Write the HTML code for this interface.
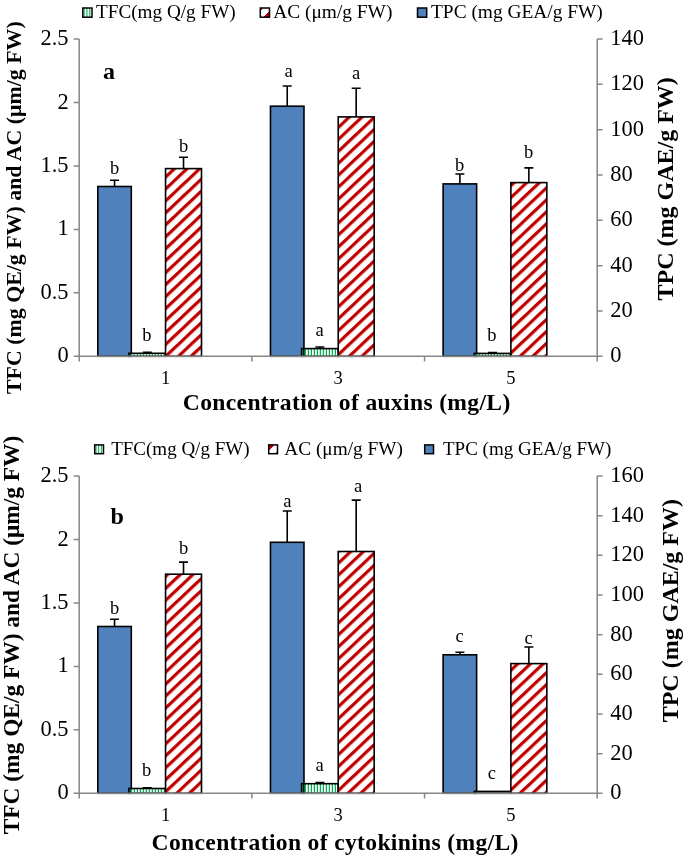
<!DOCTYPE html>
<html><head><meta charset="utf-8"><style>
html,body{margin:0;padding:0;background:#fff;width:685px;height:857px;overflow:hidden}
svg{display:block;will-change:transform}
text{font-family:"Liberation Serif",serif;fill:#000}
</style></head><body>
<svg width="685" height="857" viewBox="0 0 685 857">
<defs>
<pattern id="prA0" patternUnits="userSpaceOnUse" x="0" y="6.006" width="8.6970" height="8.6970" patternTransform="rotate(-43.350)"><rect width="8.6970" height="8.6970" fill="#fff"/><rect width="8.6970" height="3.2" fill="#C00000"/></pattern>
<pattern id="prA1" patternUnits="userSpaceOnUse" x="0" y="1.541" width="8.6970" height="8.6970" patternTransform="rotate(-43.350)"><rect width="8.6970" height="8.6970" fill="#fff"/><rect width="8.6970" height="3.2" fill="#C00000"/></pattern>
<pattern id="prA2" patternUnits="userSpaceOnUse" x="0" y="5.774" width="8.6970" height="8.6970" patternTransform="rotate(-43.350)"><rect width="8.6970" height="8.6970" fill="#fff"/><rect width="8.6970" height="3.2" fill="#C00000"/></pattern>
<pattern id="prB0" patternUnits="userSpaceOnUse" x="0" y="0.771" width="8.6970" height="8.6970" patternTransform="rotate(-43.350)"><rect width="8.6970" height="8.6970" fill="#fff"/><rect width="8.6970" height="3.2" fill="#C00000"/></pattern>
<pattern id="prB1" patternUnits="userSpaceOnUse" x="0" y="5.366" width="8.6970" height="8.6970" patternTransform="rotate(-43.350)"><rect width="8.6970" height="8.6970" fill="#fff"/><rect width="8.6970" height="3.2" fill="#C00000"/></pattern>
<pattern id="prB2" patternUnits="userSpaceOnUse" x="0" y="1.643" width="8.6970" height="8.6970" patternTransform="rotate(-43.350)"><rect width="8.6970" height="8.6970" fill="#fff"/><rect width="8.6970" height="3.2" fill="#C00000"/></pattern>
<linearGradient id="prl" x1="0" y1="0" x2="1" y2="1">
<stop offset="0" stop-color="#C00000"/><stop offset="0.2" stop-color="#C00000"/><stop offset="0.2" stop-color="#fff"/>
<stop offset="0.66" stop-color="#fff"/><stop offset="0.66" stop-color="#C00000"/><stop offset="1" stop-color="#C00000"/>
</linearGradient>
<linearGradient id="prlb" x1="0" y1="0" x2="1" y2="1">
<stop offset="0" stop-color="#C00000"/><stop offset="0.34" stop-color="#C00000"/><stop offset="0.34" stop-color="#fff"/>
<stop offset="0.84" stop-color="#fff"/><stop offset="0.84" stop-color="#C00000"/><stop offset="1" stop-color="#C00000"/>
</linearGradient>
<pattern id="pg" patternUnits="userSpaceOnUse" x="0" y="0" width="3" height="3">
<rect x="1.75" width="1.5" height="3" fill="#00B050"/>
</pattern>
<pattern id="pgl" patternUnits="objectBoundingBox" width="0.333" height="1">
<rect width="4" height="12" fill="#fff"/><rect x="1.3" width="1.5" height="12" fill="#00B050"/>
</pattern>
</defs>
<rect width="685" height="857" fill="#fff"/>
<rect x="82.8" y="8.0" width="9.2" height="9.2" fill="#fff"/>
<rect x="83.63" y="8.0" width="1.06" height="9.2" fill="#00B050"/>
<rect x="86.39" y="8.0" width="1.06" height="9.2" fill="#00B050"/>
<rect x="89.24" y="8.0" width="1.06" height="9.2" fill="#00B050"/>
<rect x="82.8" y="8.0" width="9.2" height="9.2" fill="none" stroke="#000" stroke-width="1.5"/>
<text x="96" y="17.8" font-size="19.2">TFC(mg Q/g FW)</text>
<rect x="260.3" y="8.0" width="9.2" height="9.2" fill="url(#prl)" stroke="#000" stroke-width="1.5"/>
<text x="273.2" y="17.8" font-size="19.4">AC (μm/g FW)</text>
<rect x="417.5" y="8.0" width="9.2" height="9.2" fill="#4F81BD" stroke="#000" stroke-width="1.5"/>
<text x="431" y="17.8" font-size="19.4">TPC (mg GEA/g FW)</text>
<rect x="97.80" y="186.5" width="33.50" height="169.80" fill="#4F81BD" stroke="#000" stroke-width="1.6"/>
<path d="M114.55 186.5V180.2M110.05 180.2H119.05" stroke="#000" stroke-width="1.6" fill="none"/>
<rect x="270.47" y="106.2" width="33.50" height="250.10" fill="#4F81BD" stroke="#000" stroke-width="1.6"/>
<path d="M287.22 106.2V86.0M282.72 86.0H291.72" stroke="#000" stroke-width="1.6" fill="none"/>
<rect x="443.13" y="183.9" width="33.50" height="172.40" fill="#4F81BD" stroke="#000" stroke-width="1.6"/>
<path d="M459.88 183.9V174.0M455.38 174.0H464.38" stroke="#000" stroke-width="1.6" fill="none"/>
<rect x="128.90" y="353.3" width="36.65" height="3.00" fill="url(#pg)" stroke="#000" stroke-width="1.6"/>
<path d="M147.23 353.3V352.4M142.73 352.4H151.73" stroke="#000" stroke-width="1.6" fill="none"/>
<rect x="301.57" y="348.6" width="36.65" height="7.70" fill="url(#pg)" stroke="#000" stroke-width="1.6"/>
<path d="M319.89 348.6V347.0M315.39 347.0H324.39" stroke="#000" stroke-width="1.6" fill="none"/>
<rect x="474.23" y="353.4" width="36.65" height="2.90" fill="url(#pg)" stroke="#000" stroke-width="1.6"/>
<path d="M492.56 353.4V352.6M488.06 352.6H497.06" stroke="#000" stroke-width="1.6" fill="none"/>
<rect x="165.55" y="168.6" width="35.95" height="187.70" fill="url(#prA0)" stroke="#000" stroke-width="1.6"/>
<path d="M183.53 168.6V157.2M179.03 157.2H188.03" stroke="#000" stroke-width="1.6" fill="none"/>
<rect x="338.22" y="116.9" width="35.95" height="239.40" fill="url(#prA1)" stroke="#000" stroke-width="1.6"/>
<path d="M356.19 116.9V88.3M351.69 88.3H360.69" stroke="#000" stroke-width="1.6" fill="none"/>
<rect x="510.88" y="182.6" width="35.95" height="173.70" fill="url(#prA2)" stroke="#000" stroke-width="1.6"/>
<path d="M528.86 182.6V167.9M524.36 167.9H533.36" stroke="#000" stroke-width="1.6" fill="none"/>
<path d="M79.2 39.0V356.3H597.2V39.0 M73.7 356.30H79.2 M73.7 292.84H79.2 M73.7 229.38H79.2 M73.7 165.92H79.2 M73.7 102.46H79.2 M73.7 39.00H79.2 M597.2 356.30H602.5 M597.2 310.97H602.5 M597.2 265.64H602.5 M597.2 220.31H602.5 M597.2 174.99H602.5 M597.2 129.66H602.5 M597.2 84.33H602.5 M597.2 39.00H602.5 M79.20 356.3V361.6 M251.87 356.3V361.6 M424.53 356.3V361.6 M597.20 356.3V361.6" stroke="#868686" stroke-width="1.5" fill="none"/>
<text transform="translate(68.6 362.3) scale(1.02 1.05)" font-size="22" text-anchor="end">0</text>
<text transform="translate(68.6 298.8) scale(1.02 1.05)" font-size="22" text-anchor="end">0.5</text>
<text transform="translate(68.6 235.4) scale(1.02 1.05)" font-size="22" text-anchor="end">1</text>
<text transform="translate(68.6 171.9) scale(1.02 1.05)" font-size="22" text-anchor="end">1.5</text>
<text transform="translate(68.6 108.5) scale(1.02 1.05)" font-size="22" text-anchor="end">2</text>
<text transform="translate(68.6 45.0) scale(1.02 1.05)" font-size="22" text-anchor="end">2.5</text>
<text transform="translate(610.2 362.3) scale(1.02 1.05)" font-size="22">0</text>
<text transform="translate(610.2 317.0) scale(1.02 1.05)" font-size="22">20</text>
<text transform="translate(610.2 271.6) scale(1.02 1.05)" font-size="22">40</text>
<text transform="translate(610.2 226.3) scale(1.02 1.05)" font-size="22">60</text>
<text transform="translate(610.2 181.0) scale(1.02 1.05)" font-size="22">80</text>
<text transform="translate(610.2 135.7) scale(1.02 1.05)" font-size="22">100</text>
<text transform="translate(610.2 90.3) scale(1.02 1.05)" font-size="22">120</text>
<text transform="translate(610.2 45.0) scale(1.02 1.05)" font-size="22">140</text>
<text x="165.5" y="383.7" font-size="18.5" text-anchor="middle">1</text>
<text x="338.2" y="383.7" font-size="18.5" text-anchor="middle">3</text>
<text x="510.9" y="383.7" font-size="18.5" text-anchor="middle">5</text>
<text x="114.6" y="173.6" font-size="18.5" text-anchor="middle">b</text>
<text x="146.9" y="341.0" font-size="18.5" text-anchor="middle">b</text>
<text x="183.7" y="151.9" font-size="18.5" text-anchor="middle">b</text>
<text x="288.7" y="77.4" font-size="18.5" text-anchor="middle">a</text>
<text x="319.6" y="335.7" font-size="18.5" text-anchor="middle">a</text>
<text x="356.0" y="79.3" font-size="18.5" text-anchor="middle">a</text>
<text x="459.7" y="171.0" font-size="18.5" text-anchor="middle">b</text>
<text x="491.9" y="341.0" font-size="18.5" text-anchor="middle">b</text>
<text x="528.6" y="157.9" font-size="18.5" text-anchor="middle">b</text>
<text x="346.75" y="410" font-size="23.6" font-weight="bold" letter-spacing="0.33" text-anchor="middle">Concentration of auxins (mg/L)</text>
<text x="103" y="78.5" font-size="24" font-weight="bold">a</text>
<text transform="translate(21.2 394) rotate(-90)" font-size="21.88" font-weight="bold">TFC (mg QE/g FW) and AC (μm/g FW)</text>
<text transform="translate(672.7 300.5) rotate(-90)" font-size="24" font-weight="bold">TPC (mg GAE/g FW)</text>
<rect x="94.7" y="444.9" width="8.8" height="8.8" fill="#fff"/>
<rect x="95.49" y="444.9" width="1.01" height="8.8" fill="#00B050"/>
<rect x="98.13" y="444.9" width="1.01" height="8.8" fill="#00B050"/>
<rect x="100.86" y="444.9" width="1.01" height="8.8" fill="#00B050"/>
<rect x="94.7" y="444.9" width="8.8" height="8.8" fill="none" stroke="#000" stroke-width="1.5"/>
<text x="111.2" y="454.8" font-size="19">TFC(mg Q/g FW)</text>
<rect x="268.7" y="444.9" width="8.8" height="8.8" fill="url(#prlb)" stroke="#000" stroke-width="1.5"/>
<text x="284.3" y="454.8" font-size="19.3">AC (μm/g FW)</text>
<rect x="424.7" y="444.9" width="8.8" height="8.8" fill="#4F81BD" stroke="#000" stroke-width="1.5"/>
<text x="443" y="454.8" font-size="19">TPC (mg GEA/g FW)</text>
<rect x="97.80" y="626.5" width="33.50" height="166.80" fill="#4F81BD" stroke="#000" stroke-width="1.6"/>
<path d="M114.55 626.5V619.3M110.05 619.3H119.05" stroke="#000" stroke-width="1.6" fill="none"/>
<rect x="270.47" y="542.3" width="33.50" height="251.00" fill="#4F81BD" stroke="#000" stroke-width="1.6"/>
<path d="M287.22 542.3V511.0M282.72 511.0H291.72" stroke="#000" stroke-width="1.6" fill="none"/>
<rect x="443.13" y="654.8" width="33.50" height="138.50" fill="#4F81BD" stroke="#000" stroke-width="1.6"/>
<path d="M459.88 654.8V652.3M455.38 652.3H464.38" stroke="#000" stroke-width="1.6" fill="none"/>
<rect x="128.90" y="788.5" width="36.65" height="4.80" fill="url(#pg)" stroke="#000" stroke-width="1.6"/>
<path d="M147.23 788.5V787.8M142.73 787.8H151.73" stroke="#000" stroke-width="1.6" fill="none"/>
<rect x="301.57" y="783.7" width="36.65" height="9.60" fill="url(#pg)" stroke="#000" stroke-width="1.6"/>
<path d="M319.89 783.7V782.5M315.39 782.5H324.39" stroke="#000" stroke-width="1.6" fill="none"/>
<rect x="474.23" y="791.4" width="36.65" height="1.90" fill="url(#pg)" stroke="#000" stroke-width="1.6"/>
<rect x="165.55" y="574.2" width="35.95" height="219.10" fill="url(#prB0)" stroke="#000" stroke-width="1.6"/>
<path d="M183.53 574.2V562.1M179.03 562.1H188.03" stroke="#000" stroke-width="1.6" fill="none"/>
<rect x="338.22" y="551.5" width="35.95" height="241.80" fill="url(#prB1)" stroke="#000" stroke-width="1.6"/>
<path d="M356.19 551.5V500.1M351.69 500.1H360.69" stroke="#000" stroke-width="1.6" fill="none"/>
<rect x="510.88" y="663.6" width="35.95" height="129.70" fill="url(#prB2)" stroke="#000" stroke-width="1.6"/>
<path d="M528.86 663.6V647.0M524.36 647.0H533.36" stroke="#000" stroke-width="1.6" fill="none"/>
<path d="M79.2 476.0V793.3H597.2V476.0 M73.7 793.30H79.2 M73.7 729.84H79.2 M73.7 666.38H79.2 M73.7 602.92H79.2 M73.7 539.46H79.2 M73.7 476.00H79.2 M597.2 793.30H602.5 M597.2 753.64H602.5 M597.2 713.97H602.5 M597.2 674.31H602.5 M597.2 634.65H602.5 M597.2 594.99H602.5 M597.2 555.33H602.5 M597.2 515.66H602.5 M597.2 476.00H602.5 M79.20 793.3V798.5999999999999 M251.87 793.3V798.5999999999999 M424.53 793.3V798.5999999999999 M597.20 793.3V798.5999999999999" stroke="#868686" stroke-width="1.5" fill="none"/>
<text transform="translate(68.6 799.3) scale(1.02 1.05)" font-size="22" text-anchor="end">0</text>
<text transform="translate(68.6 735.8) scale(1.02 1.05)" font-size="22" text-anchor="end">0.5</text>
<text transform="translate(68.6 672.4) scale(1.02 1.05)" font-size="22" text-anchor="end">1</text>
<text transform="translate(68.6 608.9) scale(1.02 1.05)" font-size="22" text-anchor="end">1.5</text>
<text transform="translate(68.6 545.5) scale(1.02 1.05)" font-size="22" text-anchor="end">2</text>
<text transform="translate(68.6 482.0) scale(1.02 1.05)" font-size="22" text-anchor="end">2.5</text>
<text transform="translate(610.2 799.3) scale(1.02 1.05)" font-size="22">0</text>
<text transform="translate(610.2 759.6) scale(1.02 1.05)" font-size="22">20</text>
<text transform="translate(610.2 720.0) scale(1.02 1.05)" font-size="22">40</text>
<text transform="translate(610.2 680.3) scale(1.02 1.05)" font-size="22">60</text>
<text transform="translate(610.2 640.6) scale(1.02 1.05)" font-size="22">80</text>
<text transform="translate(610.2 601.0) scale(1.02 1.05)" font-size="22">100</text>
<text transform="translate(610.2 561.3) scale(1.02 1.05)" font-size="22">120</text>
<text transform="translate(610.2 521.7) scale(1.02 1.05)" font-size="22">140</text>
<text transform="translate(610.2 482.0) scale(1.02 1.05)" font-size="22">160</text>
<text x="165.5" y="820.7" font-size="18.5" text-anchor="middle">1</text>
<text x="338.2" y="820.7" font-size="18.5" text-anchor="middle">3</text>
<text x="510.9" y="820.7" font-size="18.5" text-anchor="middle">5</text>
<text x="114.6" y="613.6" font-size="18.5" text-anchor="middle">b</text>
<text x="146.7" y="775.5" font-size="18.5" text-anchor="middle">b</text>
<text x="183.7" y="553.7" font-size="18.5" text-anchor="middle">b</text>
<text x="287.3" y="507.1" font-size="18.5" text-anchor="middle">a</text>
<text x="319.5" y="771.1" font-size="18.5" text-anchor="middle">a</text>
<text x="358.0" y="491.8" font-size="18.5" text-anchor="middle">a</text>
<text x="459.5" y="642.2" font-size="18.5" text-anchor="middle">c</text>
<text x="491.9" y="778.7" font-size="18.5" text-anchor="middle">c</text>
<text x="528.5" y="644.0" font-size="18.5" text-anchor="middle">c</text>
<text x="335.15" y="850" font-size="23.6" font-weight="bold" letter-spacing="0.33" text-anchor="middle">Concentration of cytokinins (mg/L)</text>
<text x="110.5" y="523.5" font-size="24" font-weight="bold">b</text>
<text transform="translate(19.3 834.3) rotate(-90)" font-size="23.4" font-weight="bold">TFC (mg QE/g FW) and AC (μm/g FW)</text>
<text transform="translate(678 722.3) rotate(-90)" font-size="24" font-weight="bold">TPC (mg GAE/g FW)</text>
</svg>
</body></html>
